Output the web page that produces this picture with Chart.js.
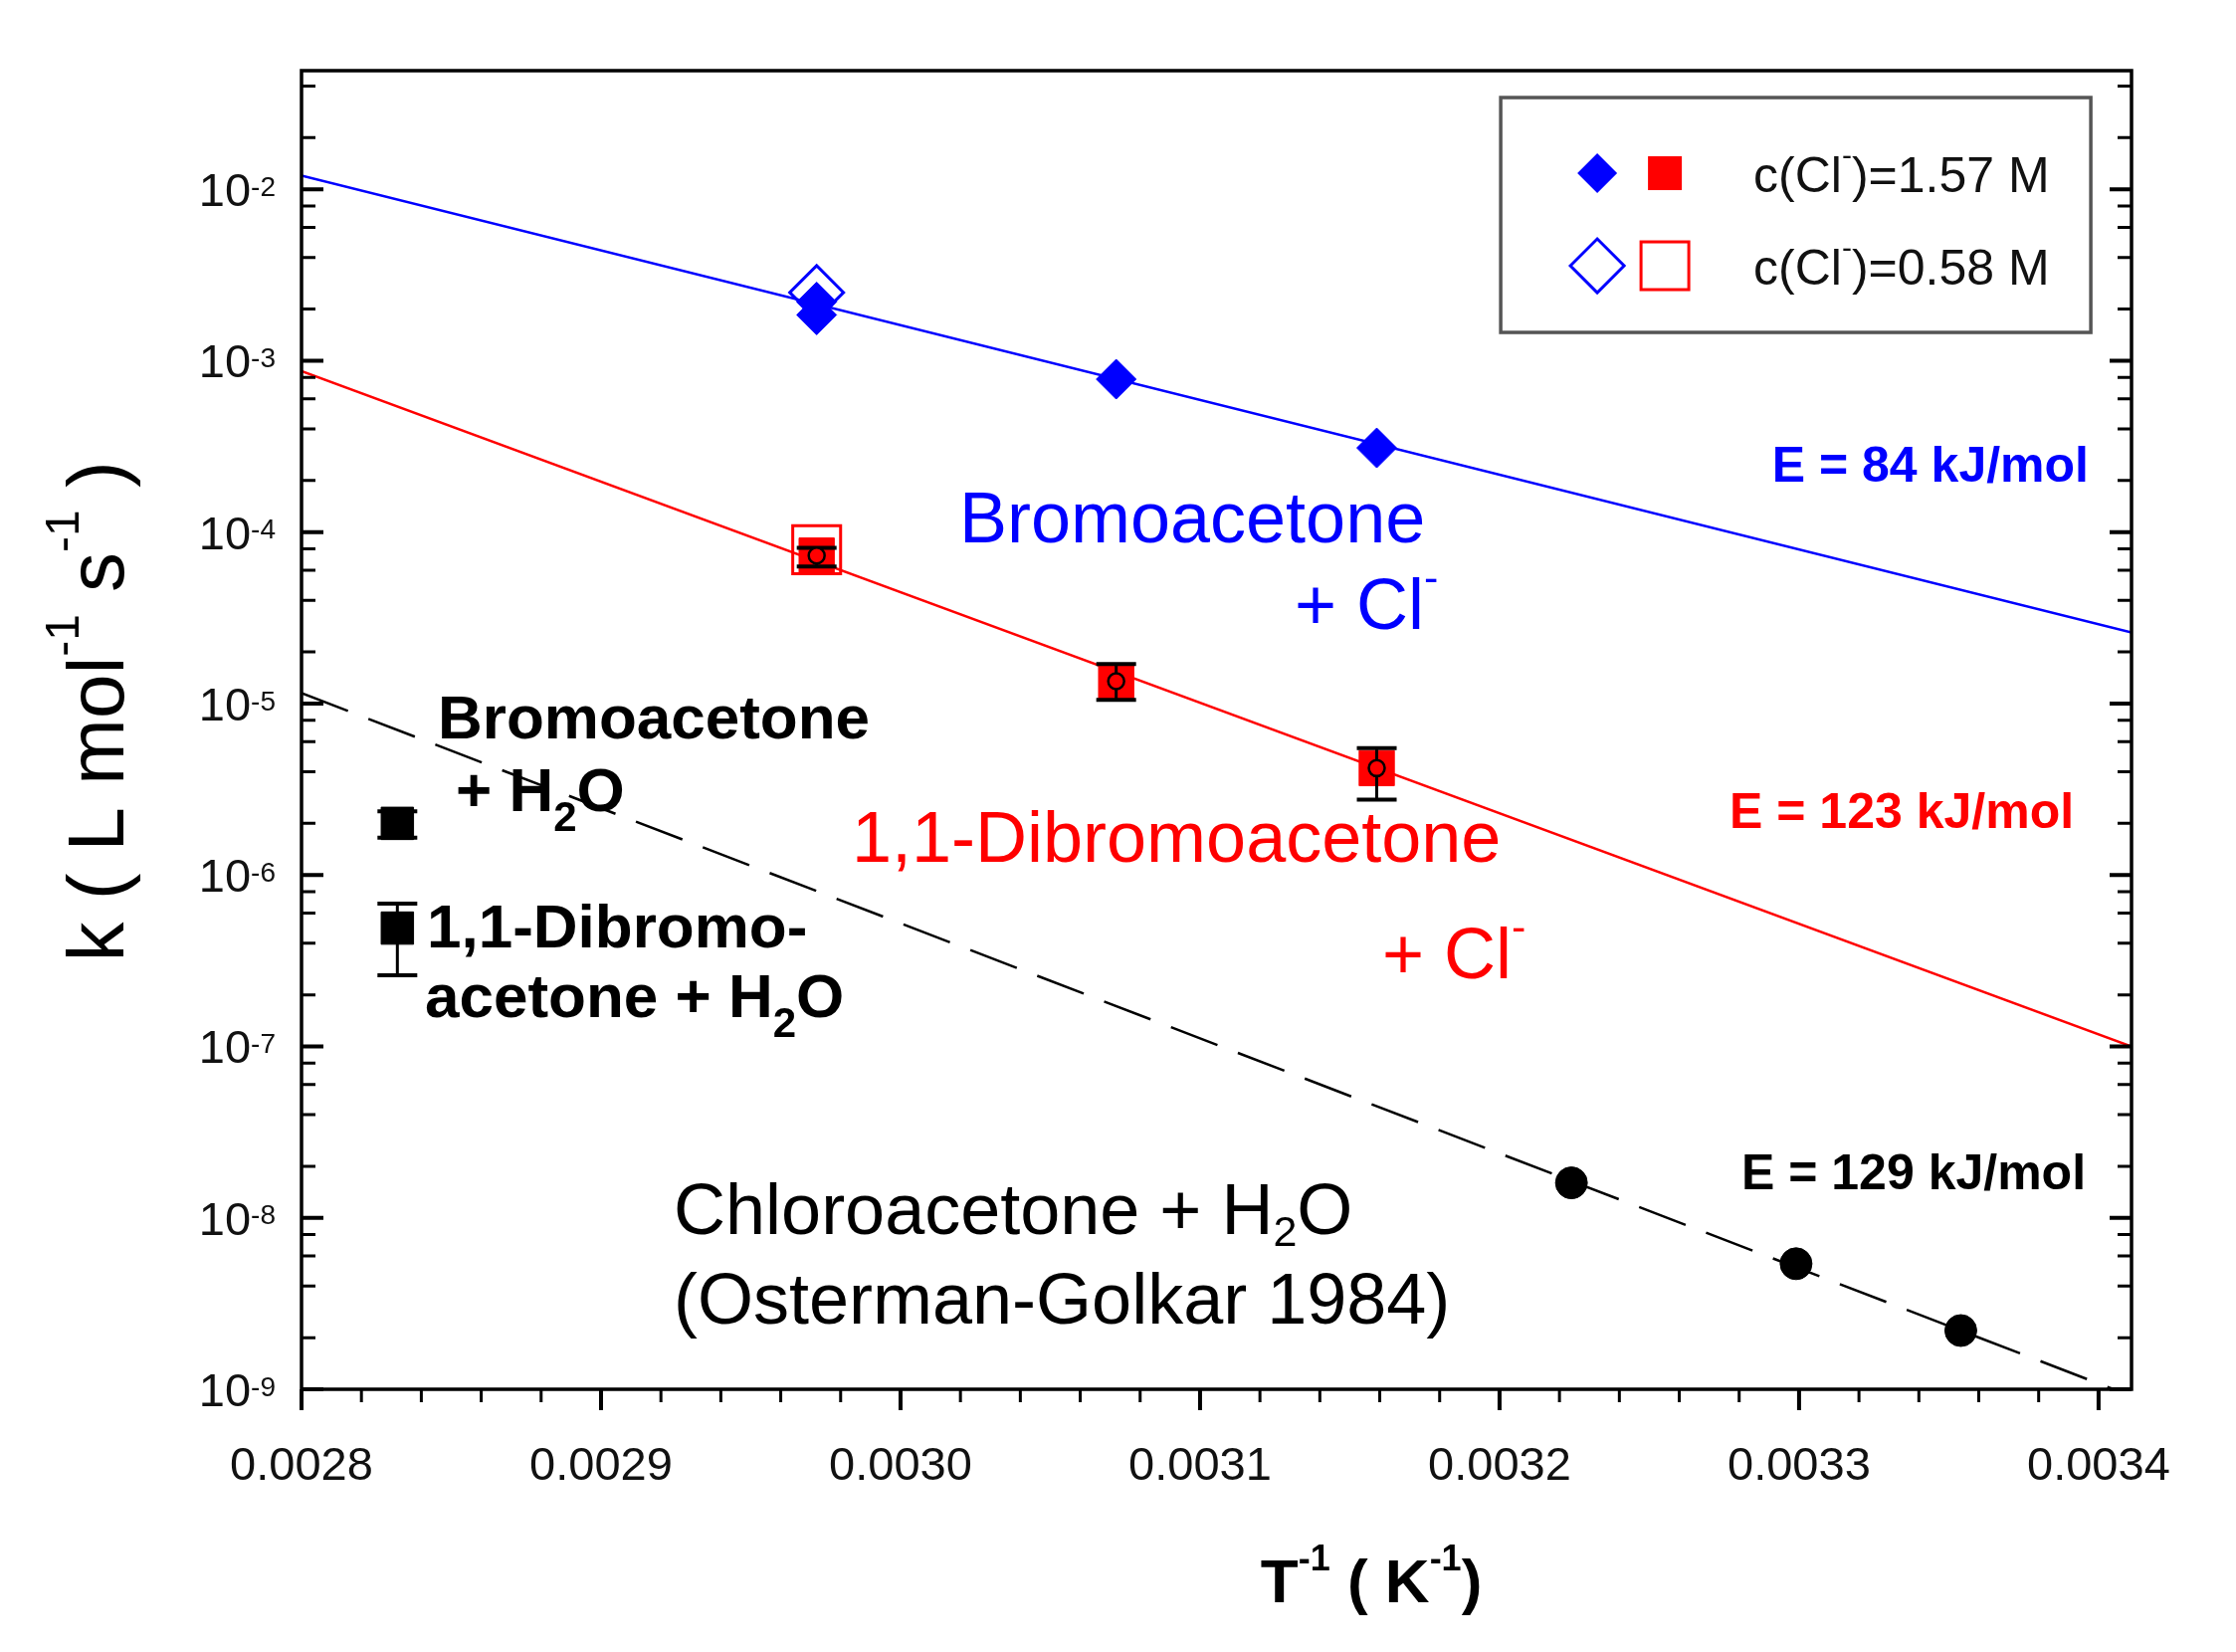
<!DOCTYPE html>
<html>
<head>
<meta charset="utf-8">
<script src="https://cdn.jsdelivr.net/npm/chart.js@4.4.1/dist/chart.umd.min.js"></script>
<style>
  html, body { margin: 0; padding: 0; background: #fff; }
  canvas { display: block; }
</style>
</head>
<body>
<canvas id="arrhenius" width="2247" height="1660"></canvas>
<script>
// Arrhenius plot: 1/T (K^-1) against k (L mol^-1 s^-1)
const xTicks = [0.0028, 0.0029, 0.0030, 0.0031, 0.0032, 0.0033, 0.0034];
const yDecades = [-9, -8, -7, -6, -5, -4, -3, -2];

// bromoacetone + Cl-
const bromoX = [0.002972, 0.002972, 0.003072, 0.003159];
const bromoK = [2.2e-3, 1.85e-3, 7.8e-4, 3.1e-4];     // c(Cl-) = 1.57 M
const bromoLowX = [0.002972];
const bromoLowK = [2.5e-3];                          // c(Cl-) = 0.58 M
const bromoFitX = [0.0028, 0.003411];
const bromoFitK = [1.2e-2, 2.6e-5];

// 1,1-dibromoacetone + Cl-
const dibromoX = [0.002972, 0.003072, 0.003159];
const dibromoK = [7.3e-5, 1.35e-5, 4.2e-6];
const dibromoLo = [6.3e-5, 1.05e-5, 2.75e-6];
const dibromoHi = [8.1e-5, 1.7e-5, 5.5e-6];
const dibromoLowX = [0.002972];
const dibromoLowK = [7.9e-5];
const dibromoFitX = [0.0028, 0.003411];
const dibromoFitK = [8.7e-4, 1.0e-7];

// hydrolysis of bromoacetone and 1,1-dibromoacetone
const hydroX = [0.002832, 0.002832];
const hydroK = [2.0e-6, 4.9e-7];
const hydroLo = [1.65e-6, 2.6e-7];
const hydroHi = [2.35e-6, 6.8e-7];

// chloroacetone + H2O (Osterman-Golkar 1984)
const chloroX = [0.003224, 0.003299, 0.003354];
const chloroK = [1.6e-8, 5.4e-9, 2.2e-9];
const chloroFitX = [0.0028, 0.003405];
const chloroFitK = [1.15e-5, 1.0e-9];

const BLUE = '#0000ff', RED = '#ff0000', BLACK = '#000000';
const FONT = '"Liberation Sans", Arial, sans-serif';

const pts = (xs, ys) => xs.map((x, i) => ({x: x, y: ys[i]}));

// text with super/subscripts: [text, sizeFactor, rise]
function drawRich(ctx, segs, x, y, align, size, weight, color) {
  const parts = segs.map(([t, f = 1, r = 0]) => {
    ctx.font = weight + ' ' + Math.round(size * f) + 'px ' + FONT;
    return {t: t, font: ctx.font, w: ctx.measureText(t).width, r: r * size};
  });
  const total = parts.reduce((s, p) => s + p.w, 0);
  let cx = align === 'right' ? x - total : align === 'center' ? x - total / 2 : x;
  ctx.fillStyle = color;
  ctx.textAlign = 'left';
  ctx.textBaseline = 'alphabetic';
  parts.forEach(p => {
    ctx.font = p.font;
    ctx.fillText(p.t, cx, y - p.r);
    cx += p.w;
  });
}

const SUP = 0.6, RISE = 0.52;
const notes = [
  {segs: [['Bromoacetone']], fx: 0.3594, fy: 0.3577, size: 72, weight: 'normal', color: BLUE},
  {segs: [['+ Cl'], ['-', SUP, RISE]], fx: 0.5427, fy: 0.4234, size: 72, weight: 'normal', color: BLUE},
  {segs: [['E = 84 kJ/mol']], fx: 0.9766, fy: 0.3117, size: 50, weight: 'bold', color: BLUE, align: 'right'},
  {segs: [['1,1-Dibromoacetone']], fx: 0.3007, fy: 0.600, size: 72, weight: 'normal', color: RED},
  {segs: [['+ Cl'], ['-', SUP, RISE]], fx: 0.5905, fy: 0.6883, size: 72, weight: 'normal', color: RED},
  {segs: [['E = 123 kJ/mol']], fx: 0.9685, fy: 0.5743, size: 50, weight: 'bold', color: RED, align: 'right'},
  {segs: [['Bromoacetone']], fx: 0.0745, fy: 0.5064, size: 62, weight: 'bold', color: BLACK},
  {segs: [['+ H'], ['2', 0.68, -0.32], ['O']], fx: 0.0843, fy: 0.5615, size: 62, weight: 'bold', color: BLACK},
  {segs: [['1,1-Dibromo-']], fx: 0.0685, fy: 0.6649, size: 62, weight: 'bold', color: BLACK},
  {segs: [['acetone + H'], ['2', 0.68, -0.32], ['O']], fx: 0.0674, fy: 0.7177, size: 62, weight: 'bold', color: BLACK},
  {segs: [['E = 129 kJ/mol']], fx: 0.9750, fy: 0.8483, size: 50, weight: 'bold', color: BLACK, align: 'right'},
  {segs: [['Chloroacetone + H'], ['2', 0.6, -0.16], ['O']], fx: 0.2034, fy: 0.8823, size: 72, weight: 'normal', color: BLACK},
  {segs: [['(Osterman-Golkar 1984)']], fx: 0.2034, fy: 0.9502, size: 72, weight: 'normal', color: BLACK}
];

// vertical error bars, drawn right after the dataset that carries errLo/errHi
const errorBars = {
  id: 'errorBars',
  afterDatasetDraw(chart, args) {
    const ds = chart.data.datasets[args.index];
    if (!ds.errLo) return;
    const {ctx, scales: {x, y}} = chart;
    ctx.save();
    ctx.strokeStyle = BLACK;
    ds.data.forEach((p, i) => {
      const px = x.getPixelForValue(p.x);
      const lo = y.getPixelForValue(ds.errLo[i]);
      const hi = y.getPixelForValue(ds.errHi[i]);
      ctx.lineWidth = 3;
      ctx.beginPath();
      ctx.moveTo(px, lo); ctx.lineTo(px, hi);
      ctx.stroke();
      ctx.lineWidth = 4;
      ctx.beginPath();
      ctx.moveTo(px - 20, lo); ctx.lineTo(px + 20, lo);
      ctx.moveTo(px - 20, hi); ctx.lineTo(px + 20, hi);
      ctx.stroke();
    });
    ctx.restore();
  }
};

// frame, ticks, tick labels, axis titles, legend and notes
const frame = {
  id: 'frame',
  afterDraw(chart) {
    const {ctx, chartArea: a, scales: {x, y}} = chart;
    const w = a.right - a.left, h = a.bottom - a.top;
    ctx.save();
    ctx.strokeStyle = BLACK;
    ctx.lineCap = 'butt';

    // y ticks, inward on both sides
    yDecades.concat([-1]).forEach(d => {
      [1, 2, 4, 6, 8].forEach(m => {
        const v = m * Math.pow(10, d);
        if (v < y.min || v > y.max) return;
        const py = y.getPixelForValue(v);
        const len = m === 1 ? 22 : 14;
        ctx.lineWidth = m === 1 ? 4 : 3;
        ctx.beginPath();
        ctx.moveTo(a.left, py); ctx.lineTo(a.left + len, py);
        ctx.moveTo(a.right, py); ctx.lineTo(a.right - len, py);
        ctx.stroke();
      });
    });

    // x ticks, outward at the bottom
    for (let i = 0; i <= 30; i++) {
      const v = xTicks[0] + i * 0.00002;
      const px = x.getPixelForValue(v);
      const major = i % 5 === 0;
      ctx.lineWidth = major ? 4 : 3;
      ctx.beginPath();
      ctx.moveTo(px, a.bottom); ctx.lineTo(px, a.bottom + (major ? 21 : 13));
      ctx.stroke();
    }

    ctx.lineWidth = 3.5;
    ctx.strokeRect(a.left, a.top, w, h);

    // tick labels
    ctx.fillStyle = '#111';
    ctx.font = '47px ' + FONT;
    ctx.textAlign = 'center';
    ctx.textBaseline = 'alphabetic';
    xTicks.forEach(v => ctx.fillText(v.toFixed(4), x.getPixelForValue(v), a.bottom + 91));
    yDecades.forEach(d => {
      const py = y.getPixelForValue(Math.pow(10, d));
      drawRich(ctx, [['10'], ['-' + Math.abs(d), 0.6, 0.22]], a.left - 26, py + 17, 'right', 47, 'normal', '#111');
    });

    // axis titles
    drawRich(ctx, [['T'], ['-1', 0.58, 0.52], [' ( K'], ['-1', 0.58, 0.52], [')']],
      a.left + 0.5846 * w, a.bottom + 214, 'center', 62, 'bold', BLACK);
    ctx.save();
    ctx.translate(124, a.top + 0.486 * h);
    ctx.rotate(-Math.PI / 2);
    drawRich(ctx, [['k ( L mol'], ['-1', 0.6, 0.56], [' s'], ['-1', 0.6, 0.56], [' )']],
      0, 0, 'center', 80, 'normal', BLACK);
    ctx.restore();

    // legend
    const lx = a.left + 0.6553 * w, ly = a.top + 0.0204 * h;
    ctx.strokeStyle = '#555';
    ctx.lineWidth = 3.5;
    ctx.strokeRect(lx, ly, 593, 236);
    const rows = [
      {y: ly + 76, filled: true, label: '=1.57 M'},
      {y: ly + 169, filled: false, label: '=0.58 M'}
    ];
    rows.forEach(r => {
      const dx = lx + 97, sx = lx + 165;
      const dr = r.filled ? 20 : 27, sh = r.filled ? 17 : 24;
      ctx.beginPath();
      ctx.moveTo(dx - dr, r.y); ctx.lineTo(dx, r.y - dr);
      ctx.lineTo(dx + dr, r.y); ctx.lineTo(dx, r.y + dr);
      ctx.closePath();
      if (r.filled) {
        ctx.fillStyle = BLUE; ctx.fill();
        ctx.fillStyle = RED; ctx.fillRect(sx - sh, r.y - sh, 2 * sh, 2 * sh);
      } else {
        ctx.strokeStyle = BLUE; ctx.lineWidth = 3; ctx.stroke();
        ctx.strokeStyle = RED; ctx.strokeRect(sx - sh, r.y - sh, 2 * sh, 2 * sh);
      }
      drawRich(ctx, [['c(Cl'], ['-', 0.6, 0.54], [')' + r.label]], lx + 254, r.y + 19, 'left', 50, 'normal', '#111');
    });

    // text inside the plot
    notes.forEach(n => {
      drawRich(ctx, n.segs, a.left + n.fx * w, a.top + n.fy * h, n.align || 'left', n.size, n.weight, n.color);
    });
    ctx.restore();
  }
};

const datasets = [
  {data: pts(chloroX, chloroK), pointStyle: 'circle', pointRadius: 16,
   backgroundColor: BLACK, borderColor: BLACK, borderWidth: 1, order: 1},
  {data: pts(hydroX, hydroK), pointStyle: 'rect', pointRadius: 23,
   backgroundColor: BLACK, borderColor: BLACK, borderWidth: 1, errLo: hydroLo, errHi: hydroHi, order: 2},
  {data: pts(bromoX, bromoK), pointStyle: 'rectRot', pointRadius: 20,
   backgroundColor: BLUE, borderColor: BLUE, borderWidth: 1, order: 3},
  {data: pts(bromoLowX, bromoLowK), pointStyle: 'rectRot', pointRadius: 27,
   backgroundColor: 'rgba(0,0,0,0)', borderColor: BLUE, borderWidth: 3, order: 4},
  {data: pts(dibromoX, dibromoK), pointStyle: 'circle', pointRadius: 8,
   backgroundColor: RED, borderColor: BLACK, borderWidth: 2.5, order: 5},
  {data: pts(dibromoX, dibromoK), pointStyle: 'rect', pointRadius: 25,
   backgroundColor: RED, borderColor: RED, borderWidth: 1, errLo: dibromoLo, errHi: dibromoHi, order: 6},
  {data: pts(dibromoLowX, dibromoLowK), pointStyle: 'rect', pointRadius: 34,
   backgroundColor: 'rgba(0,0,0,0)', borderColor: RED, borderWidth: 3, order: 7},
  {data: pts(bromoFitX, bromoFitK), showLine: true, pointRadius: 0,
   borderColor: BLUE, borderWidth: 2.5, order: 10},
  {data: pts(dibromoFitX, dibromoFitK), showLine: true, pointRadius: 0,
   borderColor: RED, borderWidth: 2.5, order: 10},
  {data: pts(chloroFitX, chloroFitK), showLine: true, pointRadius: 0,
   borderColor: BLACK, borderWidth: 2.5, borderDash: [50, 22], order: 10}
];

const ctx = document.getElementById('arrhenius').getContext('2d');
new Chart(ctx, {
  type: 'scatter',
  data: {datasets: datasets},
  options: {
    responsive: false,
    devicePixelRatio: 1,
    animation: false,
    layout: {padding: {left: 303, top: 71, right: 105, bottom: 264}},
    scales: {
      x: {type: 'linear', min: 0.0028, max: 0.003411, display: false},
      y: {type: 'logarithmic', min: 1e-9, max: 0.0492, display: false}
    },
    plugins: {
      legend: {display: false},
      tooltip: {enabled: false}
    }
  },
  plugins: [errorBars, frame]
});
</script>
</body>
</html>
